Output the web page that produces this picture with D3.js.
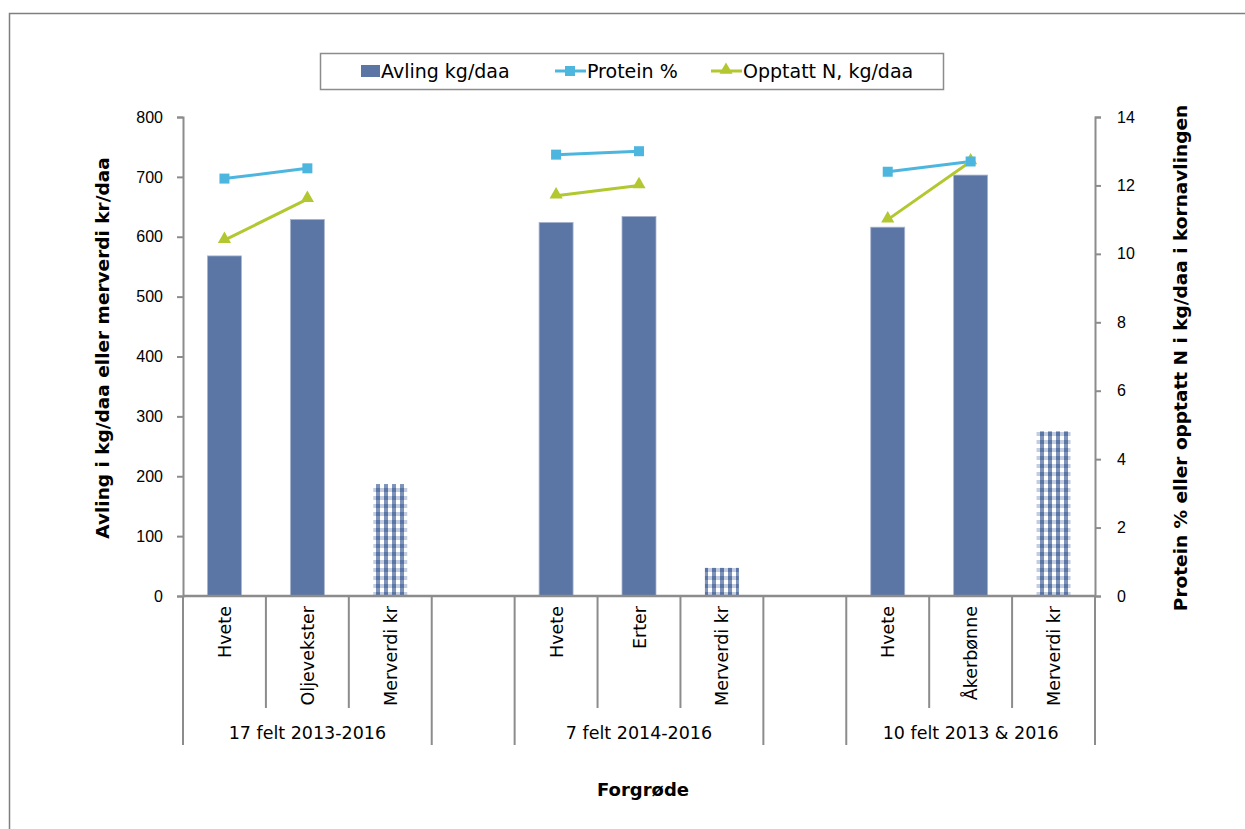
<!DOCTYPE html>
<html><head><meta charset="utf-8">
<script src="https://cdn.jsdelivr.net/npm/d3@7"></script>
<style>body{margin:0;background:#fff}svg{display:block}</style>
</head><body>
<svg id="c" width="1245" height="829"></svg>
<script>
const categories = ["Hvete","Oljevekster","Merverdi kr","","Hvete","Erter","Merverdi kr","","Hvete","Åkerbønne","Merverdi kr"];
const groupLabels = ["17 felt 2013-2016","7 felt 2014-2016","10 felt 2013 & 2016"];
const groupStarts = [0,4,8];
const groupSize = 3;
const avling = [568,629,null,null,624,634,null,null,616,703,null];
const merverdi = [null,null,187,null,null,null,47,null,null,null,275];
const protein = [12.2,12.5,null,null,12.9,13.0,null,null,12.4,12.7,null];
const opptatt = [10.4,11.6,null,null,11.7,12.0,null,null,11.0,12.7,null];
const leftTicks = [0,100,200,300,400,500,600,700,800];
const rightTicks = [0,2,4,6,8,10,12,14];

const svg = d3.select("#c");
const font = "'DejaVu Sans',sans-serif";
const numFont = "'Liberation Sans',Arial,sans-serif";
const axisCol = "#8c8c8c";
const barCol = "#5b76a4";
const protCol = "#4db6de";
const nCol = "#b2c730";

// outer border
svg.append("rect").attr("x",9.5).attr("y",13.5).attr("width",1300).attr("height",900)
  .attr("fill","none").attr("stroke","#7f7f7f").attr("stroke-width",1.5);

const defs = svg.append("defs");
const pat = defs.append("pattern").attr("id","chk").attr("patternUnits","userSpaceOnUse")
  .attr("width",8).attr("height",8);
pat.append("rect").attr("width",8).attr("height",8).attr("fill","#ffffff");
pat.append("rect").attr("x",0).attr("y",0).attr("width",8).attr("height",4).attr("fill","#c2cde1");
pat.append("rect").attr("x",0).attr("y",0).attr("width",4).attr("height",8).attr("fill","#7d93b9");
pat.append("rect").attr("x",0).attr("y",0).attr("width",4).attr("height",4).attr("fill","#5b76a4");

const L = 183, R = 1095, T = 117, B = 596;
const idx = categories.map((d,i)=>i);
const x = d3.scaleBand().domain(idx).range([L,R]).paddingInner(0).paddingOuter(0);
const yL = d3.scaleLinear().domain([0,800]).range([B,T]);
const yR = d3.scaleLinear().domain([0,14]).range([B,T]);
const bw = x.bandwidth()*0.41;
const cx = i => x(i)+x.bandwidth()/2;

// bars
svg.append("g").selectAll("rect").data(idx.filter(i=>avling[i]!=null)).join("rect")
  .attr("x",i=>cx(i)-bw/2).attr("width",bw)
  .attr("y",i=>yL(avling[i])).attr("height",i=>B-yL(avling[i]))
  .attr("fill",barCol).attr("stroke","#a9b6d0").attr("stroke-width",0.8);
svg.append("g").selectAll("rect").data(idx.filter(i=>merverdi[i]!=null)).join("rect")
  .attr("x",i=>cx(i)-bw/2).attr("width",bw)
  .attr("y",i=>yL(merverdi[i])).attr("height",i=>B-yL(merverdi[i]))
  .attr("fill","url(#chk)");

// left axis
const gl = svg.append("g").attr("transform",`translate(${L},0)`)
  .call(d3.axisLeft(yL).tickValues(leftTicks).tickSize(6).tickPadding(14));
gl.select(".domain").attr("stroke",axisCol).attr("stroke-width",2);
gl.selectAll(".tick line").attr("stroke",axisCol).attr("stroke-width",2);
gl.selectAll("text").attr("font-family",numFont).attr("font-size",16).attr("fill","#000");

const gr = svg.append("g").attr("transform",`translate(${R},0)`)
  .call(d3.axisRight(yR).tickValues(rightTicks).tickSize(6).tickPadding(16));
gr.select(".domain").attr("stroke",axisCol).attr("stroke-width",2);
gr.selectAll(".tick line").attr("stroke",axisCol).attr("stroke-width",2);
gr.selectAll("text").attr("font-family",numFont).attr("font-size",16).attr("fill","#000");

// x axis baseline
svg.append("line").attr("x1",L).attr("x2",R).attr("y1",B).attr("y2",B)
  .attr("stroke",axisCol).attr("stroke-width",2.5);

// category separators
const bounds = d3.range(categories.length+1);
const longSet = new Set();
groupStarts.forEach(s=>{longSet.add(s);longSet.add(s+groupSize);});
svg.append("g").selectAll("line").data(bounds.filter(b=>{
    if (longSet.has(b)) return true;
    return groupStarts.some(s=>b>s && b<s+groupSize);
  })).join("line")
  .attr("x1",b=>b<categories.length?x(b):R).attr("x2",b=>b<categories.length?x(b):R)
  .attr("y1",B).attr("y2",b=>longSet.has(b)?745:708)
  .attr("stroke",axisCol).attr("stroke-width",2);

// category labels
svg.append("g").selectAll("text").data(idx.filter(i=>categories[i]!=="")).join("text")
  .attr("transform",i=>`translate(${cx(i)+6.5},${606}) rotate(-90)`)
  .attr("text-anchor","end").attr("font-family",font).attr("font-size",17.5)
  .text(i=>categories[i]);

// group labels
svg.append("g").selectAll("text").data(groupLabels).join("text")
  .attr("x",(d,g)=>(x(groupStarts[g])+ (groupStarts[g]+groupSize<categories.length?x(groupStarts[g]+groupSize):R))/2)
  .attr("y",739).attr("text-anchor","middle").attr("font-family",font).attr("font-size",17.5)
  .text(d=>d);

// lines
const line = (arr) => d3.line().defined(i=>arr[i]!=null).x(i=>cx(i)).y(i=>yR(arr[i]));
svg.append("path").datum(idx).attr("d",line(opptatt)).attr("fill","none")
  .attr("stroke",nCol).attr("stroke-width",3);
svg.append("path").datum(idx).attr("d",line(protein)).attr("fill","none")
  .attr("stroke",protCol).attr("stroke-width",3);
const tri = d3.symbol().type(d3.symbolTriangle).size(75);
svg.append("g").selectAll("path").data(idx.filter(i=>opptatt[i]!=null)).join("path")
  .attr("d",tri).attr("transform",i=>`translate(${cx(i)},${yR(opptatt[i])-1})`).attr("fill",nCol);
svg.append("g").selectAll("rect").data(idx.filter(i=>protein[i]!=null)).join("rect")
  .attr("x",i=>cx(i)-5).attr("y",i=>yR(protein[i])-5).attr("width",10).attr("height",10).attr("fill",protCol);

// axis titles
svg.append("text").attr("transform",`translate(109,348) rotate(-90)`).attr("text-anchor","middle")
  .attr("font-family",font).attr("font-weight","bold").attr("font-size",18.5)
  .text("Avling i kg/daa eller merverdi kr/daa");
svg.append("text").attr("transform",`translate(1187,358) rotate(-90)`).attr("text-anchor","middle")
  .attr("font-family",font).attr("font-weight","bold").attr("font-size",18.5)
  .text("Protein % eller opptatt N i kg/daa i kornavlingen");
svg.append("text").attr("x",643).attr("y",796).attr("text-anchor","middle")
  .attr("font-family",font).attr("font-weight","bold").attr("font-size",18).text("Forgrøde");

// legend
const lg = svg.append("g");
lg.append("rect").attr("x",320.5).attr("y",53.5).attr("width",623).attr("height",36)
  .attr("fill","#fff").attr("stroke","#8c8c8c").attr("stroke-width",1.5);
lg.append("rect").attr("x",361).attr("y",65).attr("width",19).attr("height",12).attr("fill",barCol);
lg.append("text").attr("x",381).attr("y",78).attr("font-family",font).attr("font-size",19).text("Avling kg/daa");
lg.append("line").attr("x1",555).attr("x2",586).attr("y1",71).attr("y2",71).attr("stroke",protCol).attr("stroke-width",3);
lg.append("rect").attr("x",565).attr("y",66).attr("width",10).attr("height",10).attr("fill",protCol);
lg.append("text").attr("x",587).attr("y",78).attr("font-family",font).attr("font-size",19).text("Protein %");
lg.append("line").attr("x1",711).attr("x2",742).attr("y1",71).attr("y2",71).attr("stroke",nCol).attr("stroke-width",3);
lg.append("path").attr("d",tri).attr("transform","translate(726,70)").attr("fill",nCol);
lg.append("text").attr("x",743).attr("y",78).attr("font-family",font).attr("font-size",19).text("Opptatt N, kg/daa");
</script>
</body></html>
